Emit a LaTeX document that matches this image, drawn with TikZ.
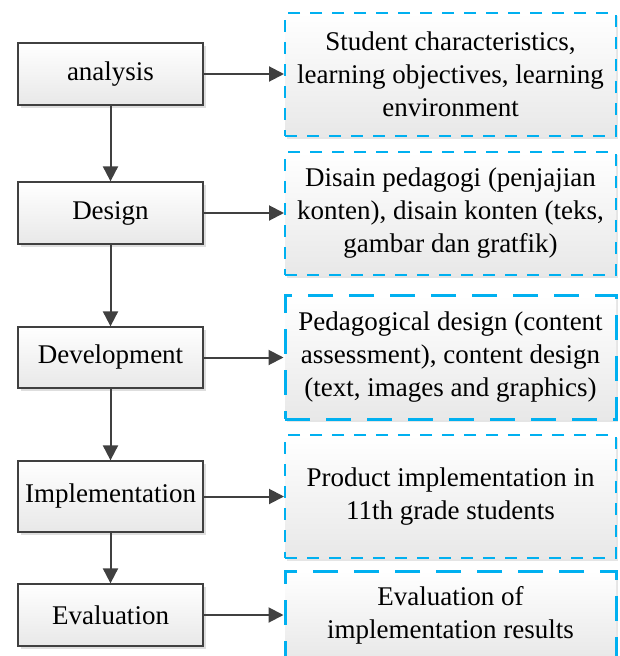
\documentclass[tikz,border=0pt]{standalone}
\usepackage{fontspec}
\setmainfont{Liberation Serif}
\usetikzlibrary{arrows.meta,shadows}
\definecolor{lineg}{HTML}{404040}
\definecolor{dcyan}{HTML}{00B0F0}
\definecolor{boxbot}{HTML}{E8E8E8}
\tikzset{
  stagebox/.style={draw=lineg, line width=1.3pt, top color=white, bottom color=boxbot,
    minimum width=185pt, inner sep=0pt, font=\fontsize{27}{33}\selectfont,
    drop shadow={shadow xshift=3pt, shadow yshift=-3pt, fill=black!13, opacity=1}},
  descbox/.style={draw=dcyan, line width=2pt, dash pattern=on 12pt off 10pt,
    top color=white, bottom color=boxbot, minimum width=331pt, inner sep=0pt,
    align=center, font=\fontsize{27}{33}\selectfont,
    drop shadow={shadow xshift=2pt, shadow yshift=-3pt, fill=black!10, opacity=1}},
  boldbox/.style={line width=3pt, dash pattern=on 25pt off 16pt},
  flowarrow/.style={draw=lineg, line width=2pt, -{Triangle[length=15pt,width=15pt]}, fill=lineg}
}
\begin{document}
\begin{tikzpicture}[x=1pt,y=-1pt]
\useasboundingbox (0,0) rectangle (619,656);
\node[stagebox, minimum height=62pt] (an) at (110.5,74) {analysis};
\node[stagebox, minimum height=62pt] (de) at (110.5,213) {Design};
\node[stagebox, minimum height=61pt] (dv) at (110.5,357.5) {Development};
\node[stagebox, minimum height=71pt] (im) at (110.5,496.5) {Implementation};
\node[stagebox, minimum height=62pt] (ev) at (110.5,615) {Evaluation};

\node[descbox, minimum height=123pt] (r1) at (450.5,74.5) {Student characteristics,\\learning objectives, learning\\environment};
\node[descbox, minimum height=123pt] (r2) at (450.5,213.5) {Disain pedagogi (penjajian\\konten), disain konten (teks,\\gambar dan gratfik)};
\node[descbox, boldbox, minimum height=124pt] (r3) at (450.5,357) {Pedagogical design (content\\assessment), content design\\(text, images and graphics)};
\node[descbox, minimum height=123pt] (r4) at (450.5,496.5) {Product implementation in\\11th grade students};
\node[descbox, boldbox, minimum height=88pt] (r5) at (450.5,615) {Evaluation of\\implementation results};

\draw[flowarrow] (an.south) -- (de.north);
\draw[flowarrow] (de.south) -- (dv.north);
\draw[flowarrow] (dv.south) -- (im.north);
\draw[flowarrow] (im.south) -- (ev.north);

\draw[flowarrow] (an.east) -- (an.east -| r1.west);
\draw[flowarrow] (de.east) -- (de.east -| r2.west);
\draw[flowarrow] (dv.east) -- (dv.east -| r3.west);
\draw[flowarrow] (im.east) -- (im.east -| r4.west);
\draw[flowarrow] (ev.east) -- (ev.east -| r5.west);
\end{tikzpicture}
\end{document}
